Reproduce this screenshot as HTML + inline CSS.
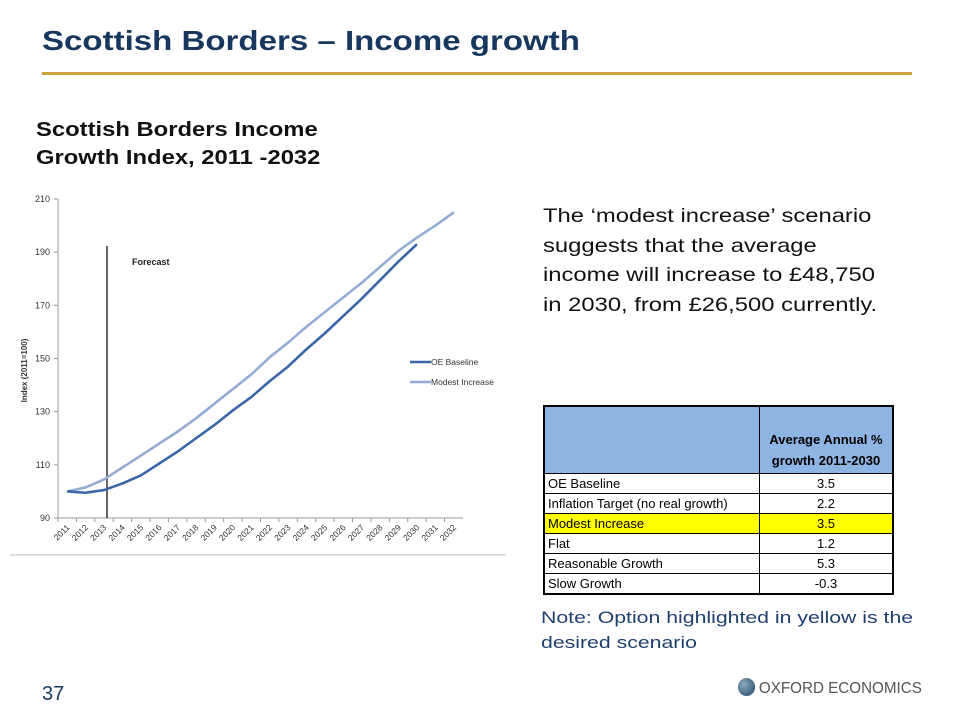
<!DOCTYPE html>
<html><head><meta charset="utf-8"><style>
body{margin:0;width:960px;height:720px;background:#fff;font-family:"Liberation Sans",sans-serif;position:relative;overflow:hidden}
.a{position:absolute;white-space:nowrap}
.sx{transform-origin:0 0}
table{border-collapse:collapse;font-family:"Liberation Sans",sans-serif;font-size:13px}
td{border:1px solid #000;height:19px;padding:0 3px;line-height:19px}
</style></head><body>
<div class="a sx" style="left:42px;top:25px;font-size:28px;font-weight:bold;color:#17375e;transform:scaleX(1.18)">Scottish Borders – Income growth</div>
<div class="a" style="left:42px;top:72px;width:870px;height:3px;background:#c9a43a"></div>
<div class="a sx" style="left:36px;top:116px;font-size:20px;font-weight:bold;line-height:28px;color:#111;transform:scaleX(1.19)">Scottish Borders Income<br>Growth Index, 2011 -2032</div>
<svg class="a" style="left:0;top:0" width="540" height="570" id="ch"></svg>
<div class="a sx" style="left:543px;top:202px;font-size:19.5px;line-height:29.5px;color:#111;transform:scaleX(1.22)">The ‘modest increase’ scenario<br>suggests that the average<br>income will increase to £48,750<br>in 2030, from £26,500 currently.</div>
<table class="a" style="left:543px;top:405px;width:351px;border:2px solid #000">
<tr style="background:#8db4e2"><td style="width:208px;height:66px"></td><td style="text-align:center;font-weight:bold;line-height:21px;padding-top:20px">Average Annual %<br>growth 2011-2030</td></tr>
<tr><td>OE Baseline</td><td style="text-align:center">3.5</td></tr>
<tr><td>Inflation Target (no real growth)</td><td style="text-align:center">2.2</td></tr>
<tr style="background:#ffff00"><td>Modest Increase</td><td style="text-align:center">3.5</td></tr>
<tr><td>Flat</td><td style="text-align:center">1.2</td></tr>
<tr><td>Reasonable Growth</td><td style="text-align:center">5.3</td></tr>
<tr><td>Slow Growth</td><td style="text-align:center">-0.3</td></tr>
</table>
<div class="a sx" style="left:541px;top:605px;font-size:17px;line-height:25px;color:#1f3f6e;transform:scaleX(1.25)">Note: Option highlighted in yellow is the<br>desired scenario</div>
<div class="a" style="left:42px;top:683px;font-size:20px;color:#17375e">37</div>
<div class="a" style="left:738px;top:678px;font-size:16px;color:#555;transform:scaleX(0.95);transform-origin:0 0"><span style="display:inline-block;width:18px;height:18px;border-radius:50%;background:radial-gradient(circle at 35% 35%,#8ab,#246);vertical-align:-3px;margin-right:4px"></span>OXFORD ECONOMICS</div>
<script>
const years=[2011,2012,2013,2014,2015,2016,2017,2018,2019,2020,2021,2022,2023,2024,2025,2026,2027,2028,2029,2030,2031,2032];
const baseline=[100,99.5,100.5,103,106,110.5,115,120,125,130.5,135.5,141.5,147,153.5,159.5,166,172.5,179.5,186.5,193];
const modest=[100,101.5,104.5,109,113.5,118,122.5,127.5,133,138.5,144,150.5,156,162,167.5,173,178.5,184.5,190.5,195.5,200,205];
const yTicks=[90,110,130,150,170,190,210];
const svg=document.getElementById('ch');const NS='http://www.w3.org/2000/svg';
const x0=58,x1=463,yTop=199,yBot=518,bw=(x1-x0)/years.length;
const X=i=>x0+bw*(i+0.5), Y=v=>yBot-(v-90)/120*(yBot-yTop);
function el(t,a,p){const e=document.createElementNS(NS,t);for(const k in a)e.setAttribute(k,a[k]);(p||svg).appendChild(e);return e;}
let ax=el('path',{d:`M${x0} ${yTop}V${yBot}H${x1}`,stroke:'#999',fill:'none'});

yTicks.forEach(v=>{el('line',{x1:x0-4,x2:x0,y1:Y(v),y2:Y(v),stroke:'#999'});
let t=el('text',{x:x0-8,y:Y(v)+3,'text-anchor':'end','font-size':9,fill:'#333'});t.textContent=v;
});
years.forEach((yr,i)=>{el('line',{x1:x0+bw*i,x2:x0+bw*i,y1:yBot,y2:yBot+4,stroke:'#999'});
let t=el('text',{x:X(i)+3,y:yBot+10,'text-anchor':'end','font-size':8.5,fill:'#333',transform:`rotate(-45 ${X(i)+3} ${yBot+10})`});t.textContent=yr;
});
let yt=el('text',{x:0,y:0,'font-size':8,'font-weight':'bold',fill:'#333','text-anchor':'middle',transform:`translate(27 ${(yTop+yBot)/2+12}) rotate(-90)`});yt.textContent='Index (2011=100)';

let fl=el('line',{x1:107,x2:107,y1:246,y2:yBot,stroke:'#000','stroke-width':1.2});

let ft=el('text',{x:132,y:265,'font-size':9,'font-weight':'bold',fill:'#222'});ft.textContent='Forecast';

function line(d,c,n){let p=el('polyline',{points:d.map((v,i)=>X(i)+','+Y(v)).join(' '),fill:'none',stroke:c,'stroke-width':2.6,'stroke-linejoin':'round'});
}
line(modest,'#95acd6','modest-increase-line');line(baseline,'#3a66a8','oe-baseline-line');
[['OE Baseline','#3a66a8',362],['Modest Increase','#95acd6',382]].forEach(([n,c,y])=>{
el('line',{x1:410,x2:431,y1:y,y2:y,stroke:c,'stroke-width':2.6});
let t=el('text',{x:431,y:y+3,'font-size':8.5,fill:'#333'});t.textContent=n;
});
let sep=el('line',{x1:10,x2:506,y1:555,y2:555,stroke:'#bbb'});

</script>
</body></html>
